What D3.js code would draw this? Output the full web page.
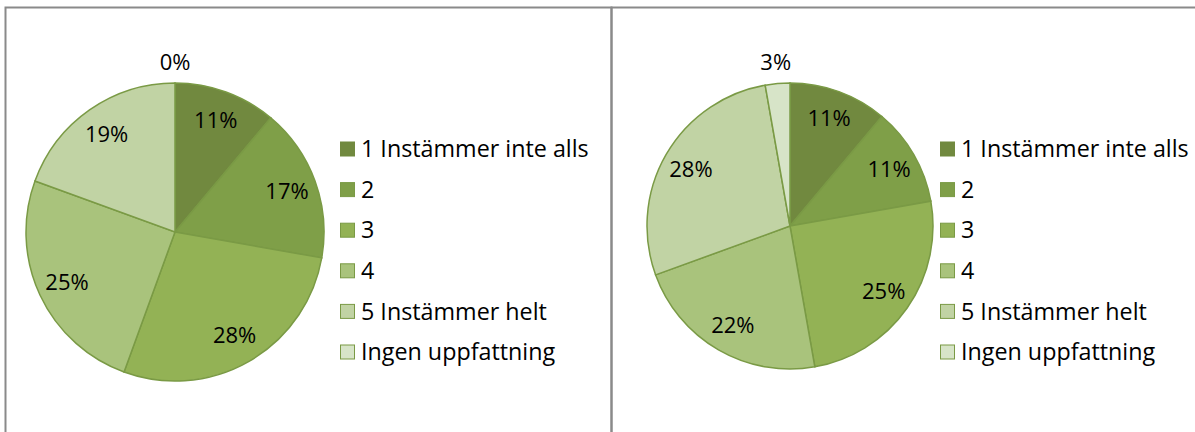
<!DOCTYPE html>
<html>
<head>
<meta charset="utf-8">
<script src="https://d3js.org/d3.v7.min.js"></script>
<style>
  body { margin: 0; background: #fff; }
  svg { display: block; font-family: "Open Sans", "Noto Sans", sans-serif; }
</style>
</head>
<body>
<div class="vis"></div>
<script>
  // answer categories (legend order = slice order, clockwise from top)
  let categories = ["1 Instämmer inte alls", "2", "3", "4", "5 Instämmer helt", "Ingen uppfattning"];
  // number of answers per category (n = 36)
  let leftValues = [4, 6, 10, 9, 7, 0];
  let rightValues = [4, 4, 9, 8, 10, 1];
  let colors = ["#71893f", "#7f9f48", "#93b255", "#a9c37c", "#c1d3a4", "#d7e4c8"];
  let edge = "#7a9a45";

  let width = 1195, height = 432;
  let svg = d3.select(".vis").append("svg")
    .attr("width", width)
    .attr("height", height);

  // panel frames
  svg.append("rect")
    .attr("x", 5.5).attr("y", 7.5)
    .attr("width", 606).attr("height", 440)
    .attr("fill", "none").attr("stroke", "#8a8a8a").attr("stroke-width", 2);
  svg.append("rect")
    .attr("x", 611.5).attr("y", 7.5)
    .attr("width", 600).attr("height", 440)
    .attr("fill", "none").attr("stroke", "#8a8a8a").attr("stroke-width", 2);

  let color = d3.scaleOrdinal().domain(categories).range(colors);

  function drawPie(values, cx, cy, r, legendX) {
    let data = categories.map((c, i) => ({ cat: c, value: values[i] }));
    let total = d3.sum(values);
    let pie = d3.pie().sort(null).value(d => d.value);
    let arcs = pie(data);
    let arc = d3.arc().innerRadius(0).outerRadius(r);
    let g = svg.append("g").attr("transform", `translate(${cx},${cy})`);

    g.selectAll("path")
      .data(arcs.filter(d => d.data.value > 0))
      .join("path")
      .attr("d", arc)
      .attr("fill", d => color(d.data.cat))
      .attr("stroke", edge)
      .attr("stroke-width", 1.5);

    // labels: inside for normal slices, outside for tiny ones
    let inner = d3.arc().innerRadius(r * 0.8).outerRadius(r * 0.8);
    let outer = d3.arc().innerRadius(r + 21).outerRadius(r + 21);
    g.selectAll("text")
      .data(arcs)
      .join("text")
      .attr("transform", d => {
        let small = d.data.value / total < 0.05;
        let p = (small ? outer : inner).centroid(d);
        return `translate(${p[0]},${p[1]})`;
      })
      .attr("text-anchor", "middle")
      .attr("dy", "0.35em")
      .attr("font-size", 22)
      .attr("fill", "#000")
      .text(d => Math.round(d.data.value / total * 100) + "%");

    // legend
    let y = d3.scalePoint().domain(categories).range([149, 352]);
    let lg = svg.append("g");
    lg.selectAll("rect")
      .data(categories)
      .join("rect")
      .attr("x", legendX + 0.5)
      .attr("y", d => y(d) - 7)
      .attr("width", 14)
      .attr("height", 14)
      .attr("fill", d => color(d))
      .attr("stroke", (d, i) => i == 0 ? color(d) : edge)
      .attr("stroke-width", 1);
    lg.selectAll("text")
      .data(categories)
      .join("text")
      .attr("x", legendX + 21)
      .attr("y", d => y(d))
      .attr("dy", "0.35em")
      .attr("font-size", 23.3)
      .attr("fill", "#000")
      .text(d => d);
  }

  drawPie(leftValues, 175, 232, 149, 340);
  drawPie(rightValues, 790, 226, 143, 940);
</script>
</body>
</html>
